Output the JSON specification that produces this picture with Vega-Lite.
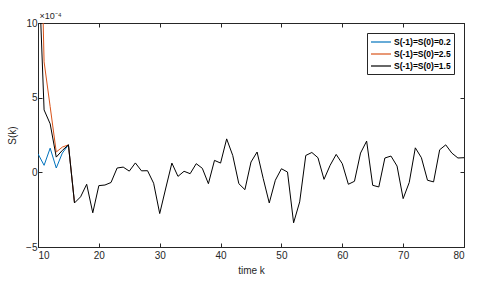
{
  "$schema": "https://vega.github.io/schema/vega-lite/v6.json",
  "width": 426,
  "height": 224,
  "autosize": {"type": "none"},
  "padding": {"left": 38, "top": 23, "right": 14, "bottom": 36},
  "background": "white",
  "config": {
    "font": "Liberation Sans",
    "view": {"stroke": "#262626", "strokeWidth": 1},
    "axis": {
      "domainColor": "#262626",
      "tickColor": "#262626",
      "tickSize": -4,
      "labelColor": "#262626",
      "labelFontSize": 10,
      "titleFontSize": 10,
      "titleFontWeight": "normal",
      "titleColor": "#262626",
      "grid": false
    }
  },
  "data": {
    "values": [
      {"k": 10, "s": 1.24, "series": "S(-1)=S(0)=0.2"},
      {"k": 11, "s": 0.47, "series": "S(-1)=S(0)=0.2"},
      {"k": 12, "s": 1.62, "series": "S(-1)=S(0)=0.2"},
      {"k": 13, "s": 0.29, "series": "S(-1)=S(0)=0.2"},
      {"k": 14, "s": 1.29, "series": "S(-1)=S(0)=0.2"},
      {"k": 15, "s": 1.84, "series": "S(-1)=S(0)=0.2"},
      {"k": 16, "s": -2.05, "series": "S(-1)=S(0)=0.2"},
      {"k": 10, "s": 25, "series": "S(-1)=S(0)=2.5"},
      {"k": 11, "s": 7.4, "series": "S(-1)=S(0)=2.5"},
      {"k": 12, "s": 4.4, "series": "S(-1)=S(0)=2.5"},
      {"k": 13, "s": 1.36, "series": "S(-1)=S(0)=2.5"},
      {"k": 14, "s": 1.69, "series": "S(-1)=S(0)=2.5"},
      {"k": 15, "s": 1.84, "series": "S(-1)=S(0)=2.5"},
      {"k": 16, "s": -2.05, "series": "S(-1)=S(0)=2.5"},
      {"k": 10, "s": 15, "series": "S(-1)=S(0)=1.5"},
      {"k": 11, "s": 4.18, "series": "S(-1)=S(0)=1.5"},
      {"k": 12, "s": 3.25, "series": "S(-1)=S(0)=1.5"},
      {"k": 13, "s": 1.02, "series": "S(-1)=S(0)=1.5"},
      {"k": 14, "s": 1.47, "series": "S(-1)=S(0)=1.5"},
      {"k": 15, "s": 1.84, "series": "S(-1)=S(0)=1.5"},
      {"k": 16, "s": -2.05, "series": "S(-1)=S(0)=1.5"},
      {"k": 17, "s": -1.64, "series": "S(-1)=S(0)=1.5"},
      {"k": 18, "s": -0.8, "series": "S(-1)=S(0)=1.5"},
      {"k": 19, "s": -2.71, "series": "S(-1)=S(0)=1.5"},
      {"k": 20, "s": -0.89, "series": "S(-1)=S(0)=1.5"},
      {"k": 21, "s": -0.85, "series": "S(-1)=S(0)=1.5"},
      {"k": 22, "s": -0.68, "series": "S(-1)=S(0)=1.5"},
      {"k": 23, "s": 0.29, "series": "S(-1)=S(0)=1.5"},
      {"k": 24, "s": 0.35, "series": "S(-1)=S(0)=1.5"},
      {"k": 25, "s": 0.08, "series": "S(-1)=S(0)=1.5"},
      {"k": 26, "s": 0.63, "series": "S(-1)=S(0)=1.5"},
      {"k": 27, "s": 0.1, "series": "S(-1)=S(0)=1.5"},
      {"k": 28, "s": 0.11, "series": "S(-1)=S(0)=1.5"},
      {"k": 29, "s": -0.73, "series": "S(-1)=S(0)=1.5"},
      {"k": 30, "s": -2.76, "series": "S(-1)=S(0)=1.5"},
      {"k": 31, "s": -1.05, "series": "S(-1)=S(0)=1.5"},
      {"k": 32, "s": 0.62, "series": "S(-1)=S(0)=1.5"},
      {"k": 33, "s": -0.27, "series": "S(-1)=S(0)=1.5"},
      {"k": 34, "s": 0.07, "series": "S(-1)=S(0)=1.5"},
      {"k": 35, "s": -0.09, "series": "S(-1)=S(0)=1.5"},
      {"k": 36, "s": 0.58, "series": "S(-1)=S(0)=1.5"},
      {"k": 37, "s": 0.27, "series": "S(-1)=S(0)=1.5"},
      {"k": 38, "s": -0.76, "series": "S(-1)=S(0)=1.5"},
      {"k": 39, "s": 0.8, "series": "S(-1)=S(0)=1.5"},
      {"k": 40, "s": 0.62, "series": "S(-1)=S(0)=1.5"},
      {"k": 41, "s": 2.24, "series": "S(-1)=S(0)=1.5"},
      {"k": 42, "s": 1.13, "series": "S(-1)=S(0)=1.5"},
      {"k": 43, "s": -0.76, "series": "S(-1)=S(0)=1.5"},
      {"k": 44, "s": -1.16, "series": "S(-1)=S(0)=1.5"},
      {"k": 45, "s": 0.69, "series": "S(-1)=S(0)=1.5"},
      {"k": 46, "s": 1.36, "series": "S(-1)=S(0)=1.5"},
      {"k": 47, "s": -0.4, "series": "S(-1)=S(0)=1.5"},
      {"k": 48, "s": -2.05, "series": "S(-1)=S(0)=1.5"},
      {"k": 49, "s": -0.53, "series": "S(-1)=S(0)=1.5"},
      {"k": 50, "s": 0.24, "series": "S(-1)=S(0)=1.5"},
      {"k": 51, "s": 0.02, "series": "S(-1)=S(0)=1.5"},
      {"k": 52, "s": -3.38, "series": "S(-1)=S(0)=1.5"},
      {"k": 53, "s": -1.98, "series": "S(-1)=S(0)=1.5"},
      {"k": 54, "s": 1.13, "series": "S(-1)=S(0)=1.5"},
      {"k": 55, "s": 1.33, "series": "S(-1)=S(0)=1.5"},
      {"k": 56, "s": 0.98, "series": "S(-1)=S(0)=1.5"},
      {"k": 57, "s": -0.47, "series": "S(-1)=S(0)=1.5"},
      {"k": 58, "s": 0.47, "series": "S(-1)=S(0)=1.5"},
      {"k": 59, "s": 1.2, "series": "S(-1)=S(0)=1.5"},
      {"k": 60, "s": 0.58, "series": "S(-1)=S(0)=1.5"},
      {"k": 61, "s": -0.8, "series": "S(-1)=S(0)=1.5"},
      {"k": 62, "s": -0.6, "series": "S(-1)=S(0)=1.5"},
      {"k": 63, "s": 1.29, "series": "S(-1)=S(0)=1.5"},
      {"k": 64, "s": 2.09, "series": "S(-1)=S(0)=1.5"},
      {"k": 65, "s": -0.87, "series": "S(-1)=S(0)=1.5"},
      {"k": 66, "s": -0.98, "series": "S(-1)=S(0)=1.5"},
      {"k": 67, "s": 0.96, "series": "S(-1)=S(0)=1.5"},
      {"k": 68, "s": 1.09, "series": "S(-1)=S(0)=1.5"},
      {"k": 69, "s": 0.42, "series": "S(-1)=S(0)=1.5"},
      {"k": 70, "s": -1.76, "series": "S(-1)=S(0)=1.5"},
      {"k": 71, "s": -0.68, "series": "S(-1)=S(0)=1.5"},
      {"k": 72, "s": 1.64, "series": "S(-1)=S(0)=1.5"},
      {"k": 73, "s": 0.98, "series": "S(-1)=S(0)=1.5"},
      {"k": 74, "s": -0.53, "series": "S(-1)=S(0)=1.5"},
      {"k": 75, "s": -0.64, "series": "S(-1)=S(0)=1.5"},
      {"k": 76, "s": 1.51, "series": "S(-1)=S(0)=1.5"},
      {"k": 77, "s": 1.84, "series": "S(-1)=S(0)=1.5"},
      {"k": 78, "s": 1.29, "series": "S(-1)=S(0)=1.5"},
      {"k": 79, "s": 0.96, "series": "S(-1)=S(0)=1.5"},
      {"k": 80, "s": 0.98, "series": "S(-1)=S(0)=1.5"}
    ]
  },
  "layer": [
    {
      "mark": {"type": "line", "clip": true, "strokeWidth": 1},
      "encoding": {
        "x": {
          "field": "k", "type": "quantitative",
          "scale": {"domain": [10, 80], "nice": false, "zero": false},
          "axis": {"orient": "bottom", "values": [10, 20, 30, 40, 50, 60, 70, 80], "title": "time k", "labelPadding": 7, "titlePadding": 5}
        },
        "y": {
          "field": "s", "type": "quantitative",
          "scale": {"domain": [-5, 10], "nice": false, "zero": false},
          "axis": {"orient": "left", "values": [-5, 0, 5, 10], "title": "S(k)", "labelPadding": 5, "titlePadding": 8}
        },
        "color": {
          "field": "series", "type": "nominal",
          "scale": {
            "domain": ["S(-1)=S(0)=0.2", "S(-1)=S(0)=2.5", "S(-1)=S(0)=1.5"],
            "range": ["#0072BD", "#D95319", "#000000"]
          },
          "legend": {
            "title": null,
            "orient": "top-right",
            "offset": 10,
            "strokeColor": "#262626",
            "fillColor": "white",
            "padding": 3,
            "symbolType": "M-1,0H3",
            "symbolSize": 100,
            "symbolStrokeWidth": 1.2,
            "labelFontSize": 8.5,
            "labelFontWeight": "bold",
            "labelColor": "#000",
            "rowPadding": 1,
            "labelOffset": 12,
            "encode": {
              "symbols": {"update": {"stroke": {"scale": "color", "field": "value"}, "fill": {"value": "transparent"}}}
            }
          }
        }
      }
    },
    {
      "mark": {"type": "line", "opacity": 0},
      "encoding": {
        "x": {
          "field": "k", "type": "quantitative",
          "axis": {"orient": "top", "values": [10, 20, 30, 40, 50, 60, 70, 80], "labels": false, "title": "×10⁻⁴", "titleFontSize": 9, "titleAnchor": "start", "titleAlign": "left", "titleBaseline": "alphabetic", "titleX": 1, "titleY": -5}
        },
        "y": {
          "field": "s", "type": "quantitative",
          "axis": {"orient": "right", "values": [-5, 0, 5, 10], "labels": false, "title": null}
        },
        "detail": {"field": "series"}
      }
    }
  ],
  "resolve": {"axis": {"x": "independent", "y": "independent"}}
}
